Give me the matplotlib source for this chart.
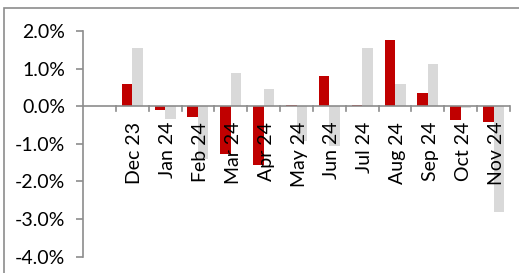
import matplotlib
matplotlib.use("Agg")
import matplotlib.pyplot as plt
from matplotlib.patches import Rectangle
import numpy as np

categories = ["", "Dec 23", "Jan 24", "Feb 24", "Mar 24", "Apr 24", "May 24", "Jun 24",
              "Jul 24", "Aug 24", "Sep 24", "Oct 24", "Nov 24"]
series_red = [np.nan, 0.60, -0.09, -0.30, -1.27, -1.57, 0.02, 0.81, 0.02, 1.75, 0.36, -0.37, -0.42]
series_gray = [np.nan, 1.54, -0.34, -1.41, 0.89, 0.47, -0.93, -1.06, 1.54, 0.60, 1.13, -0.05, -2.82]
y_ticks = [-4, -3, -2, -1, 0, 1, 2]
y_ticklabels = ["-4.0%", "-3.0%", "-2.0%", "-1.0%", "0.0%", "1.0%", "2.0%"]

plt.rcParams['font.family'] = ['Lato', 'DejaVu Sans']

W, H = 519, 273
fig = plt.figure(figsize=(W / 100, H / 100), dpi=100)
fig.patch.set_facecolor("white")

# outer border
fig.patches.append(Rectangle((4 / W, -0.05), 1.2, 1 - 7.5 / H + 0.05, transform=fig.transFigure,
                             fill=False, edgecolor="#8c8c8c", linewidth=1.2))

ax = fig.add_axes([83 / W, 1 - 256.5 / H, (510 - 83) / W, (256.5 - 31) / H])
x = np.arange(len(categories))
bw = 0.32
ax.bar(x - bw / 2, series_red, width=bw, color="#C00000", zorder=2)
ax.bar(x + bw / 2, series_gray, width=bw, color="#D9D9D9", zorder=2)

ax.set_xlim(-0.5, len(categories) - 0.5)
ax.set_ylim(-4, 2)
ax.set_yticks(y_ticks)
ax.set_yticklabels(y_ticklabels, fontsize=14)

for s in ["top", "right", "bottom"]:
    ax.spines[s].set_visible(False)
ax.spines["left"].set_color("#8c8c8c")
ax.spines["left"].set_linewidth(1.2)
ax.tick_params(axis="y", direction="out", length=5, color="#8c8c8c", width=1.2, pad=8)

# x axis at zero
ax.axhline(0, color="#8c8c8c", linewidth=1.2, zorder=3)
ax.set_xticks([])
for b in np.arange(0.5, len(categories), 1.0):
    ax.plot([b, b], [0, -0.13], color="#8c8c8c", linewidth=1.2, zorder=3, clip_on=False)

for xi, lab in zip(x, categories):
    if lab:
        ax.text(xi + 0.08, -0.42, lab, rotation=90, ha="center", va="top", fontsize=14, zorder=4)

fig.savefig("out.png", dpi=100)
